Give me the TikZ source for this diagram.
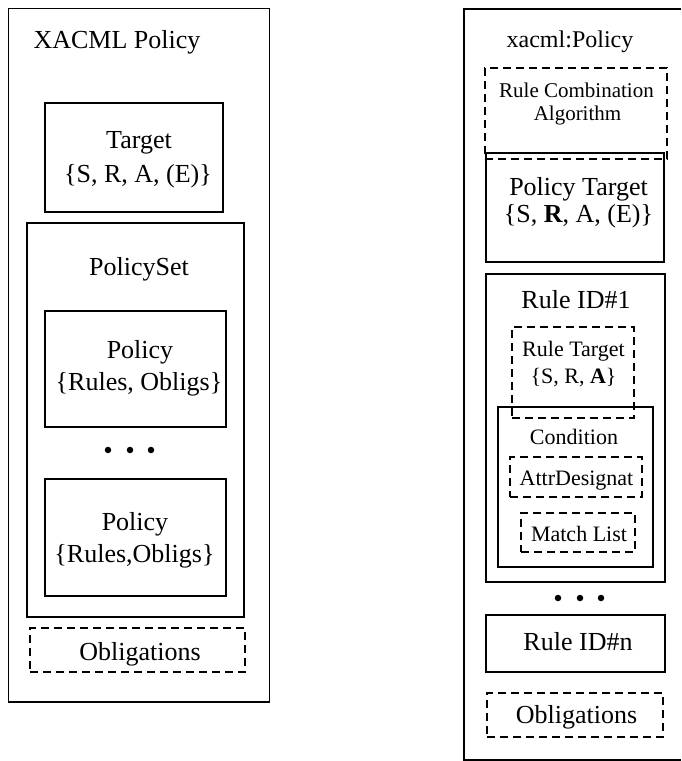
\documentclass[tikz,border=0pt]{standalone}
\usepackage{fontspec}
\setmainfont{Liberation Serif}
\usetikzlibrary{fit}
\begin{document}
\begin{tikzpicture}[x=1pt,y=-1pt,
  outerbox/.style={draw, line width=1.6pt, inner sep=0pt},
  solidbox/.style={draw, line width=2.9pt, inner sep=0pt},
  dashbox/.style={draw, line width=2.9pt, dash pattern=on 8pt off 5pt, inner sep=0pt},
  big/.style={font=\fontsize{26}{30}\selectfont, anchor=base, inner sep=0pt},
  mid/.style={font=\fontsize{24}{28}\selectfont, anchor=base, inner sep=0pt},
  small/.style={font=\fontsize{22}{26}\selectfont, anchor=base, inner sep=0pt},
  smaller/.style={font=\fontsize{21}{25}\selectfont, anchor=base, inner sep=0pt},
  dot/.style={circle, fill, inner sep=0pt, minimum size=6.5pt}]
\useasboundingbox (0,0) rectangle (681,761);

% ---------------- left panel ----------------
\node[outerbox, fit={(8.5,8.5) (269.5,702)}] (louter) {};
\node[big] (ltitle) at (117,48) {XACML Policy};

\node[solidbox, fit={(45,103) (223,212)}] (target) {};
\node[big] (tgtA) at (139,148) {Target};
\node[big] (tgtB) at (138,182) {\{S, R, A, (E)\}};

\node[solidbox, fit={(27,223) (244,617)}] (pset) {};
\node[big] (psT) at (139,275) {PolicySet};

\node[solidbox, fit={(45,311) (226,427)}] (pol1) {};
\node[big] (p1a) at (140,358) {Policy};
\node[big] (p1b) at (139,390) {\{Rules, Obligs\}};

\node[dot] (ld1) at (108,450) {};
\node[dot] (ld2) at (130,450) {};
\node[dot] (ld3) at (151,450) {};

\node[solidbox, fit={(45,479) (226,596)}] (pol2) {};
\node[big] (p2a) at (135,530) {Policy};
\node[big] (p2b) at (134.5,562) {\{Rules,Obligs\}};

\node[dashbox, fit={(30,628) (245,672)}] (oblLbox) {};
\node[big] (oblL) at (140,660) {Obligations};

% ---------------- right panel (right edge lies at the picture border) ----------------
\coordinate (rtr) at (681,9);
\coordinate (rbr) at (681,759.5);
\draw[line width=2pt] (rtr) -- (463.5,9) -- (463.5,759.5) -- (rbr);
\node[mid] (rtitle) at (570,47) {xacml:Policy};

\node[dashbox, fit={(485,68) (667,159)}] (rca) {};
\node[smaller] (rcaA) at (576.5,97) {Rule Combination};
\node[smaller] (rcaB) at (577.5,120) {Algorithm};

\node[solidbox, fit={(486,153) (664,262)}] (ptgt) {};
\node[big] (ptA) at (578.5,195) {Policy Target};
\node[big] (ptB) at (578.5,222) {\{S, \textbf{R}, A, (E)\}};

\node[solidbox, fit={(486,274) (665,582)}] (rule1) {};
\node[big] (r1T) at (576,308) {Rule ID\#1};

\node[dashbox, fit={(512,327) (634,418)}] (rtgt) {};
\node[small] (rtA) at (573.5,356) {Rule Target};
\node[small] (rtB) at (573.5,383) {\{S, R, \textbf{A}\}};

\node[solidbox, fit={(498,407) (653,567)}] (cond) {};
\node[small] (condT) at (574,444) {Condition};

\node[dashbox, fit={(510,457) (642,497)}] (attr) {};
\node[small] (attrT) at (576.5,485) {AttrDesignat};

\node[dashbox, fit={(521,513) (635,552)}] (match) {};
\node[small] (matchT) at (579,541) {Match List};

\node[dot] (rd1) at (558,598) {};
\node[dot] (rd2) at (580,598) {};
\node[dot] (rd3) at (601,598) {};

\node[solidbox, fit={(486,615) (665,672)}] (rulen) {};
\node[big] (rnT) at (578,650) {Rule ID\#n};

\node[dashbox, fit={(487,693) (663,737)}] (oblRbox) {};
\node[big] (oblR) at (576.5,723) {Obligations};
\end{tikzpicture}
\end{document}
